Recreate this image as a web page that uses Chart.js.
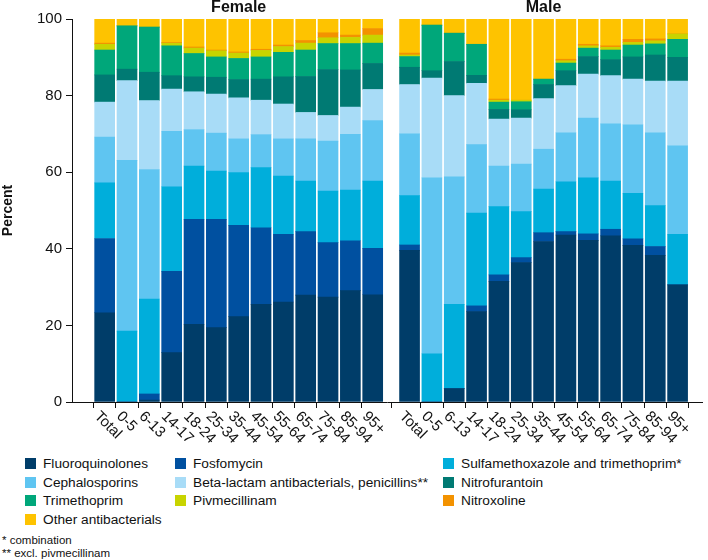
<!DOCTYPE html>
<html>
<head>
<meta charset="utf-8">
<script src="https://cdn.jsdelivr.net/npm/chart.js"></script>
<style>
  body { margin: 0; background: #fff; font-family: "Liberation Sans", Arial, sans-serif; color: #111; }
  #wrap { position: relative; width: 708px; height: 560px; }
  #chart { position: absolute; left: 0; top: 0; }
  .item { position: absolute; height: 18px; line-height: 18px; font-size: 13.7px; white-space: nowrap; }
  .box { display: inline-block; width: 11px; height: 11px; margin-right: 7px; vertical-align: -1px; }
  .note { position: absolute; left: 2px; font-size: 11.5px; line-height: 14px; white-space: nowrap; }
</style>
</head>
<body>
<div id="wrap">
  <canvas id="chart" width="708" height="450"></canvas>
  <div id="legend"></div>
  <div class="note" style="top:533px">* combination</div>
  <div class="note" style="top:546px">** excl. pivmecillinam</div>
</div>
<script>
// age groups, same for both panels
var ageGroups = ['Total','0-5','6-13','14-17','18-24','25-34','35-44','45-54','55-64','65-74','75-84','85-94','95+'];
var panels = ['Female', 'Male'];
var yTicks = [0, 20, 40, 60, 80, 100];

// percent of prescriptions, female
var fluoroquinolonesF = [23.3, 0, 0.5, 12.9, 20.3, 19.4, 22.3, 25.5, 26.1, 27.9, 27.4, 29.1, 28.0];
var fosfomycinF       = [19.4, 0, 1.6, 21.2, 27.4, 28.3, 23.8, 20.0, 17.7, 16.6, 14.2, 13.0, 12.1];
var sulfamethoxazoleF = [14.5, 18.5, 24.8, 22.1, 13.9, 12.6, 13.8, 15.7, 15.2, 13.2, 13.5, 13.2, 17.6];
var cephalosporinsF   = [12.0, 44.6, 33.8, 14.5, 9.5, 9.9, 8.8, 8.6, 9.7, 11.0, 13.0, 14.6, 15.8];
var betaLactamF       = [9.1, 20.8, 18.0, 11.0, 9.9, 10.2, 10.7, 9.0, 9.1, 6.9, 6.7, 7.1, 8.1];
var nitrofurantoinF   = [7.1, 3.0, 7.4, 3.5, 3.9, 4.4, 4.8, 5.5, 7.1, 9.4, 12.0, 9.7, 6.8];
var trimethoprimF     = [6.5, 11.3, 11.8, 7.8, 6.1, 5.3, 5.5, 5.8, 6.4, 6.9, 6.8, 6.9, 5.3];
var pivmecillinamF    = [1.5, 0, 0, 0.7, 1.4, 1.6, 1.4, 1.7, 1.5, 1.8, 1.5, 1.6, 2.1];
var nitroxolineF      = [0.3, 0, 0, 0.2, 0.3, 0.2, 0.3, 0.3, 0.4, 0.7, 1.3, 0.6, 1.7];
var otherF            = [6.3, 1.8, 2.1, 6.1, 7.3, 8.1, 8.6, 7.9, 6.8, 5.6, 3.6, 4.2, 2.5];

// percent of prescriptions, male
var fluoroquinolonesM = [39.6, 0, 3.5, 23.6, 31.5, 36.4, 41.9, 43.6, 42.2, 43.4, 40.9, 38.3, 30.6];
var fosfomycinM       = [1.4, 0, 0, 1.5, 1.7, 1.3, 2.3, 0.9, 1.7, 1.7, 1.7, 2.3, 0];
var sulfamethoxazoleM = [12.9, 12.6, 22.0, 24.2, 17.8, 12.0, 11.4, 13.0, 14.6, 12.6, 11.9, 10.7, 13.2];
var cephalosporinsM   = [16.1, 45.9, 33.3, 17.9, 10.6, 12.4, 10.4, 12.8, 15.6, 14.9, 17.9, 19.0, 23.1];
var betaLactamM       = [12.9, 26.1, 21.2, 16.0, 12.3, 12.0, 13.2, 12.3, 11.5, 12.6, 11.9, 13.5, 16.9];
var nitrofurantoinM   = [4.5, 1.9, 8.9, 2.1, 2.5, 2.2, 3.7, 3.9, 4.6, 4.2, 5.8, 6.8, 6.2];
var trimethoprimM     = [2.8, 11.9, 7.4, 8.1, 1.9, 2.1, 1.4, 2.0, 2.2, 2.5, 3.1, 2.9, 4.7];
var pivmecillinamM    = [0.4, 0, 0, 0, 0.5, 0.4, 0, 0.6, 0.6, 0.7, 0.7, 0.8, 1.4];
var nitroxolineM      = [0.5, 0, 0, 0, 0.3, 0, 0, 0.4, 0.4, 0.4, 0.8, 0.5, 0];
var otherM            = [8.9, 1.6, 3.7, 6.6, 20.9, 21.2, 15.7, 10.5, 6.6, 7.0, 5.3, 5.2, 3.9];

var series = [
  {name: 'Fluoroquinolones', color: '#003d69', f: fluoroquinolonesF, m: fluoroquinolonesM},
  {name: 'Fosfomycin', color: '#0050a0', f: fosfomycinF, m: fosfomycinM},
  {name: 'Sulfamethoxazole and trimethoprim*', color: '#00aedb', f: sulfamethoxazoleF, m: sulfamethoxazoleM},
  {name: 'Cephalosporins', color: '#5fc5f1', f: cephalosporinsF, m: cephalosporinsM},
  {name: 'Beta-lactam antibacterials, penicillins**', color: '#a8dcf7', f: betaLactamF, m: betaLactamM},
  {name: 'Nitrofurantoin', color: '#007a73', f: nitrofurantoinF, m: nitrofurantoinM},
  {name: 'Trimethoprim', color: '#00a77a', f: trimethoprimF, m: trimethoprimM},
  {name: 'Pivmecillinam', color: '#c8d400', f: pivmecillinamF, m: pivmecillinamM},
  {name: 'Nitroxoline', color: '#f39200', f: nitroxolineF, m: nitroxolineM},
  {name: 'Other antibacterials', color: '#fec300', f: otherF, m: otherM}
];

// x positions: female bars 0..12, then a small gap, male bars after it
var gap = 0.65;
var xPos = ageGroups.map(function (g, i) { return i; })
  .concat(ageGroups.map(function (g, i) { return i + ageGroups.length + gap; }));
var xLabels = ageGroups.concat(ageGroups);

var datasets = series.map(function (s) {
  var vals = s.f.concat(s.m);
  return {
    label: s.name,
    data: vals.map(function (v, i) { return {x: xPos[i], y: v}; }),
    backgroundColor: s.color,
    stack: 'all',
    barThickness: 20,
    borderWidth: 0
  };
});

var font = '"Liberation Sans", Arial, sans-serif';

// rotated age labels and the two panel titles
var extras = {
  id: 'extras',
  afterDraw: function (chart) {
    var ctx = chart.ctx;
    var x = chart.scales.x;
    ctx.save();
    ctx.fillStyle = '#111';
    ctx.font = '15px ' + font;
    ctx.textAlign = 'left';
    ctx.textBaseline = 'middle';
    xPos.forEach(function (v, i) {
      var px = x.getPixelForValue(v);
      ctx.save();
      ctx.translate(px - 8, x.top + 12);
      ctx.rotate(Math.PI / 4);
      ctx.fillText(xLabels[i], 0, 0);
      ctx.restore();
    });
    ctx.font = 'bold 16px ' + font;
    ctx.textAlign = 'center';
    var n = ageGroups.length;
    panels.forEach(function (p, k) {
      var a = x.getPixelForValue(xPos[k * n]);
      var b = x.getPixelForValue(xPos[k * n + n - 1]);
      ctx.fillText(p, (a + b) / 2, 8);
    });
    ctx.restore();
  }
};

new Chart(document.getElementById('chart'), {
  type: 'bar',
  data: {datasets: datasets},
  options: {
    responsive: false,
    animation: false,
    devicePixelRatio: 1,
    layout: {padding: {top: 19, right: 6, bottom: 42, left: 0}},
    plugins: {legend: {display: false}, tooltip: {enabled: false}},
    scales: {
      x: {
        type: 'linear',
        min: -0.92,
        max: 26.2,
        afterBuildTicks: function (scale) {
          scale.ticks = xPos.map(function (v) { return {value: v}; });
        },
        ticks: {display: false},
        grid: {drawOnChartArea: false, drawTicks: true, tickLength: 6, color: '#111'},
        border: {display: true, color: '#111', width: 1}
      },
      y: {
        stacked: true,
        min: 0,
        max: 100,
        afterBuildTicks: function (scale) {
          scale.ticks = yTicks.map(function (v) { return {value: v}; });
        },
        afterFit: function (scale) { scale.width = 72; },
        ticks: {color: '#111', padding: 4, font: {size: 15, family: font}},
        grid: {drawOnChartArea: false, drawTicks: true, tickLength: 6, color: '#111'},
        border: {display: true, color: '#111', width: 1},
        title: {display: true, text: 'Percent', color: '#111', padding: {top: 0, bottom: 0},
                font: {size: 14, weight: 'bold', family: font}}
      }
    }
  },
  plugins: [extras]
});

// legend laid out in three columns, row by row
var cols = [25, 175, 443];
var legend = document.getElementById('legend');
series.forEach(function (s, k) {
  var el = document.createElement('div');
  el.className = 'item';
  el.style.left = cols[k % 3] + 'px';
  el.style.top = (455 + 18.5 * Math.floor(k / 3)) + 'px';
  el.innerHTML = '<span class="box" style="background:' + s.color + '"></span>' + s.name;
  legend.appendChild(el);
});
</script>
</body>
</html>
